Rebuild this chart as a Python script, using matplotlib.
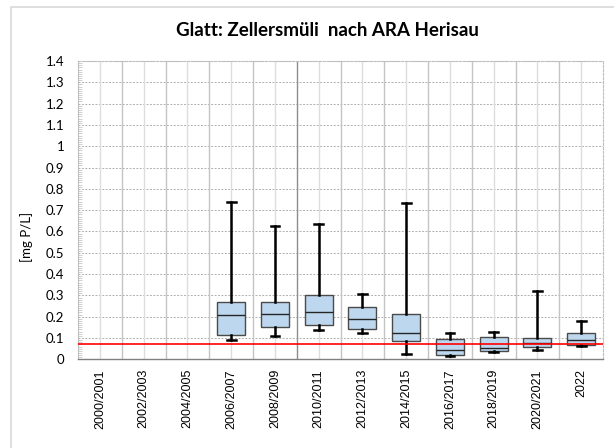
import matplotlib
matplotlib.use("Agg")
import matplotlib.pyplot as plt
from matplotlib.patches import Rectangle
from matplotlib.ticker import MultipleLocator

# Glatt, station Zellersmüli below WWTP Herisau: total phosphorus per period
periods = ["2000/2001", "2002/2003", "2004/2005", "2006/2007", "2008/2009",
           "2010/2011", "2012/2013", "2014/2015", "2016/2017", "2018/2019",
           "2020/2021", "2022"]
p_min = [None, None, None, 0.090, 0.109, 0.139, 0.123, 0.025, 0.015, 0.034, 0.044, 0.062]
p_q1 = [None, None, None, 0.115, 0.150, 0.161, 0.144, 0.084, 0.020, 0.039, 0.056, 0.067]
p_med = [None, None, None, 0.208, 0.211, 0.220, 0.188, 0.122, 0.044, 0.053, 0.078, 0.089]
p_q3 = [None, None, None, 0.267, 0.267, 0.303, 0.244, 0.211, 0.095, 0.103, 0.100, 0.123]
p_max = [None, None, None, 0.740, 0.627, 0.635, 0.306, 0.733, 0.122, 0.128, 0.322, 0.180]
target = 0.07

fig = plt.figure(figsize=(6.14, 4.48), dpi=100)
ax = fig.add_axes([78 / 614, 1 - 359.3 / 448, (603 - 78) / 614, (359.3 - 61) / 448])

# chart frame
fig.patches.append(Rectangle((11 / 614, -0.1), 1.2, 1 - 7 / 448 + 0.1,
                             transform=fig.transFigure, fill=False,
                             edgecolor="#D9D9D9", lw=1.2, zorder=0))

stats = []
pos = []
for i in range(len(periods)):
    if p_med[i] is None:
        continue
    stats.append(dict(whislo=p_min[i], q1=p_q1[i], med=p_med[i],
                      q3=p_q3[i], whishi=p_max[i], fliers=[]))
    pos.append(i)

ax.bxp(stats, positions=pos, widths=0.64, patch_artist=True, showfliers=False,
       boxprops=dict(facecolor="#BDD7EE", edgecolor="#4A4A4A", lw=1.0),
       medianprops=dict(color="#262626", lw=1.0),
       whiskerprops=dict(color="black", lw=1.8),
       capprops=dict(color="black", lw=1.8), capwidths=0.2,
       zorder=3)

ax.axhline(target, color="#FF0000", lw=1.2, zorder=4)

# grid
for y in [k / 10 for k in range(1, 15)]:
    ax.axhline(y, color="#B0B0B0", lw=0.7, ls=(0, (2, 1.5)), zorder=1)
for k in range(len(periods)):
    ax.axvline(k, color="#DDDDDD", lw=1.0, zorder=1)
for k in range(1, len(periods)):
    c = "#8C8C8C" if k == 5 else "#C4C4C4"
    ax.axvline(k - 0.5, color=c, lw=1.0, zorder=1)

ax.set_xlim(-0.5, len(periods) - 0.5)
ax.set_ylim(0, 1.4)
ax.yaxis.set_major_locator(MultipleLocator(0.1))
ax.yaxis.set_minor_locator(MultipleLocator(0.01))
ax.set_yticks([k / 10 for k in range(15)])
ax.set_yticklabels(["0"] + ["%g" % (k / 10) for k in range(1, 15)],
                   fontsize=9.5, family=["Lato", "DejaVu Sans"])
ax.set_xticks(range(len(periods)))
ax.set_xticklabels(periods, rotation=90, fontsize=9,
                   family=["Liberation Sans", "DejaVu Sans"])
ax.tick_params(axis="y", which="major", length=0, pad=10)
ax.tick_params(axis="y", which="minor", length=3, direction="in",
               color="#C8C8C8", width=0.6)
ax.tick_params(axis="x", length=0, pad=7)

for side in ["top", "right"]:
    ax.spines[side].set_color("#BFBFBF")
    ax.spines[side].set_linestyle((0, (2, 1.5)))
    ax.spines[side].set_linewidth(0.8)
ax.spines["left"].set_color("#BFBFBF")
ax.spines["left"].set_linewidth(0.8)
ax.spines["bottom"].set_color("#808080")
ax.spines["bottom"].set_linewidth(1.0)

fig.text(26.7 / 614, 1 - 236.7 / 448, "[mg P/L]", rotation=90, ha="center",
         va="center", fontsize=9.5, family=["Lato", "DejaVu Sans"])
fig.text(327 / 614, 1 - 35.7 / 448, "Glatt: Zellersmüli  nach ARA Herisau",
         ha="center", va="baseline", fontsize=13.5, fontweight="bold",
         family=["Lato", "DejaVu Sans"])

fig.savefig("out.png", dpi=100)
